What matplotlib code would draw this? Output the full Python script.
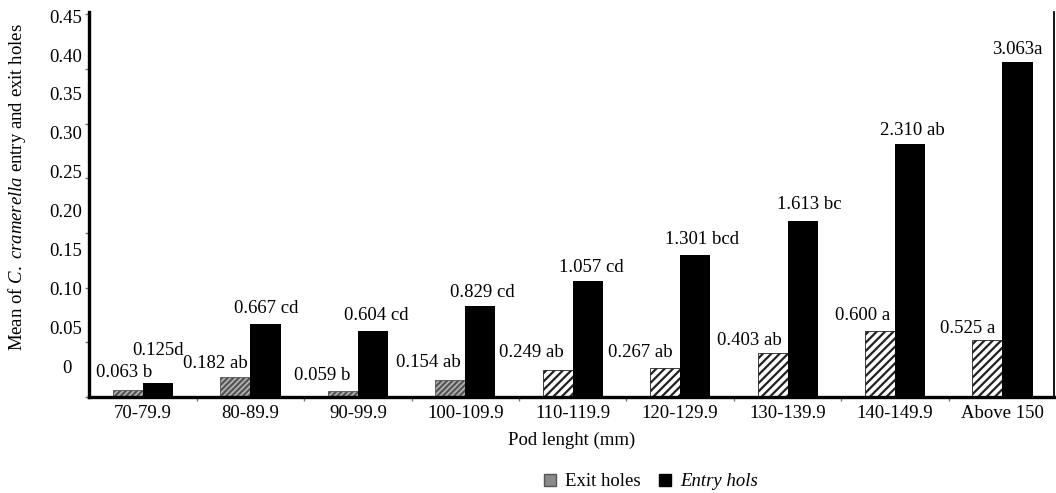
import numpy as np
import matplotlib
matplotlib.use("Agg")
import matplotlib.pyplot as plt
from matplotlib.patches import Patch
from matplotlib import transforms

plt.rcParams["font.family"] = ["Liberation Serif", "DejaVu Serif"]
plt.rcParams["mathtext.fontset"] = "custom"
plt.rcParams["mathtext.rm"] = "Liberation Serif"
plt.rcParams["mathtext.it"] = "Liberation Serif:italic"
plt.rcParams["hatch.linewidth"] = 1.6

# ---- data ----
categories = ["70-79.9", "80-89.9", "90-99.9", "100-109.9", "110-119.9",
              "120-129.9", "130-139.9", "140-149.9", "Above 150"]
exit_holes = [0.063, 0.182, 0.059, 0.154, 0.249, 0.267, 0.403, 0.600, 0.525]
exit_letters = [" b", " ab", " b", " ab", " ab", " ab", " ab", " a", " a"]
entry_holes = [0.125, 0.667, 0.604, 0.829, 1.057, 1.301, 1.613, 2.310, 3.063]
entry_letters = ["d", " cd", " cd", " cd", " cd", " bcd", " bc", " ab", "a"]
ytick_labels = ["0", "0.05", "0.10", "0.15", "0.20", "0.25",
                "0.30", "0.35", "0.40", "0.45"]

# ---- layout ----
FS = 13.5
fig = plt.figure(figsize=(10.56, 4.93), dpi=100)
ax = fig.add_axes([89 / 1056, 96 / 493, 965 / 1056, 385 / 493])

x = np.arange(len(categories))
w = 0.28

exit_bars = ax.bar(x - w / 2, exit_holes, w, facecolor="white",
                   edgecolor="#222222", linewidth=0.6, hatch="////")
for i, b in enumerate(exit_bars):
    if i in (0, 1, 2, 3):
        b.set_facecolor("#b5b5b5")
        b.set_edgecolor("#555555")
        b.set_hatch("//////")
entry_bars = ax.bar(x + w / 2, entry_holes, w, color="black", linewidth=0)

# value labels (offsets in pixels from the bar top centre)
exit_off = [(-4, 18), (-20, 14), (-21, 15), (-22, 18), (-26, 17),
            (-25, 15), (-23, 12), (-17, 16), (-20, 11)]
entry_off = [(0, 33), (1, 16), (3, 15), (2, 14), (4, 14),
             (7, 15), (7, 16), (2, 14), (0, 12)]
for i in range(len(categories)):
    ax.annotate(f"{exit_holes[i]:.3f}{exit_letters[i]}",
                xy=(x[i] - w / 2, exit_holes[i]), xytext=exit_off[i],
                textcoords="offset pixels", ha="center", va="center",
                fontsize=FS)
    ax.annotate(f"{entry_holes[i]:.3f}{entry_letters[i]}",
                xy=(x[i] + w / 2, entry_holes[i]), xytext=entry_off[i],
                textcoords="offset pixels", ha="center", va="center",
                fontsize=FS)

ax.set_xlim(-0.503, 8.48)
ax.set_ylim(0, 3.52)

# spines
for s in ("left", "bottom"):
    ax.spines[s].set_linewidth(2.4)
ax.spines["right"].set_linewidth(1.3)
ax.spines["top"].set_visible(False)

# x axis
ax.set_xticks(x)
ax.set_xticklabels(categories, fontsize=FS)
ax.set_xticks(x[:-1] + 0.5, minor=True)
ax.tick_params(axis="x", which="major", length=0, pad=6)
ax.tick_params(axis="x", which="minor", length=3, width=1, color="#777777")
ax.set_xlabel("Pod lenght (mm)", fontsize=FS, labelpad=7)

# y axis: tick marks every 0.5, text labels evenly spread
ax.set_yticks(np.arange(0, 3.51, 0.5))
ax.set_yticklabels([])
ax.tick_params(axis="y", which="major", length=3, width=1, color="#777777")
ylab_pos = np.linspace(0.265, 3.464, len(ytick_labels))
trans = transforms.blended_transform_factory(ax.transAxes, ax.transData)
for lbl, yp in zip(ytick_labels, ylab_pos):
    xp = -0.0176 if lbl == "0" else -0.0073
    ax.text(xp, yp, lbl, transform=trans, ha="right", va="center",
            fontsize=FS)

fig.text(17 / 1056, 1 - 187 / 493,
         r"Mean of $\mathit{C.\ cramerella}$ entry and exit holes",
         rotation=90, ha="center", va="center", fontsize=FS)

handles = [Patch(facecolor="#8a8a8a", edgecolor="#555555"),
           Patch(facecolor="black", edgecolor="black")]
leg = fig.legend(handles, ["Exit holes", "Entry hols"], loc="center",
                 bbox_to_anchor=(651 / 1056, 1 - 482 / 493), ncol=2,
                 frameon=False, fontsize=FS, handlelength=0.6,
                 handleheight=0.6, handletextpad=0.5, columnspacing=1.0,
                 borderpad=0)
leg.get_texts()[1].set_style("italic")

fig.savefig("out.png", dpi=100)
